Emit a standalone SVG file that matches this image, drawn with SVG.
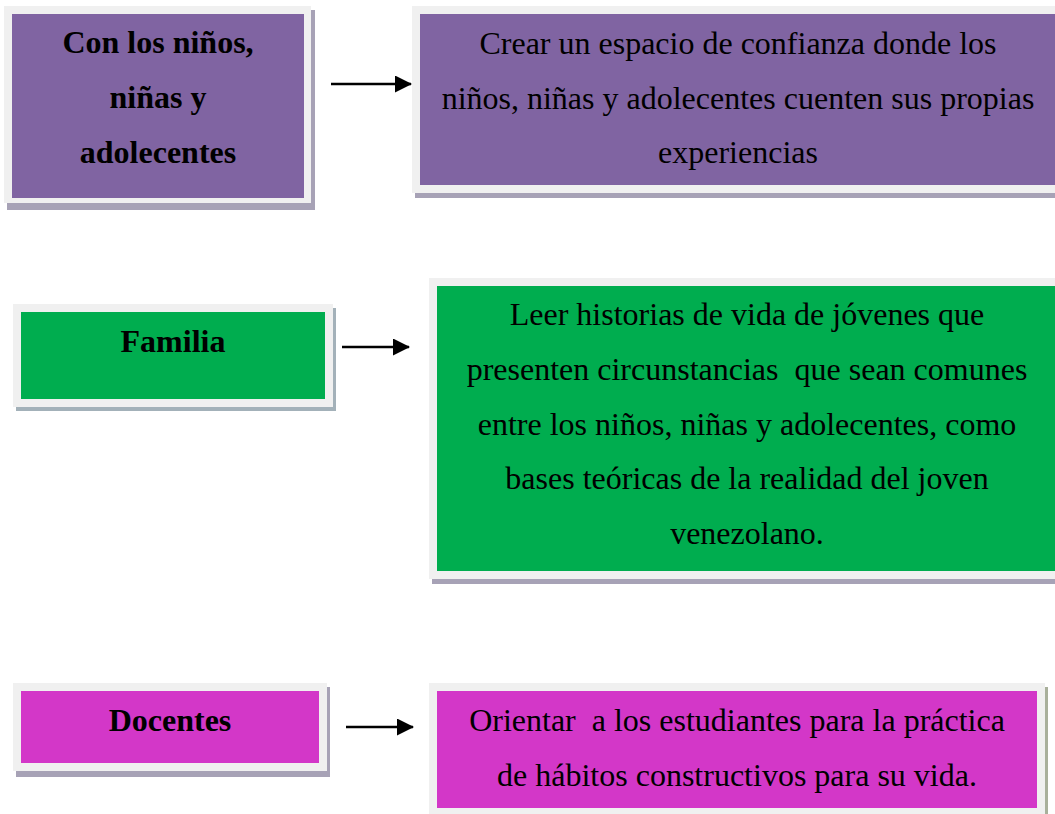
<svg xmlns="http://www.w3.org/2000/svg" width="1055" height="814" viewBox="0 0 1055 814">
<defs>
<style>
.frame{fill:#f0f0f0}
.shadow{fill:#a7a2b6}
.purple{fill:#8064a2}
.green{fill:#00ad4f}
.magenta{fill:#d337c8}
.t{font-family:"Liberation Serif","Times New Roman",serif;font-size:32px;fill:#000;text-anchor:middle;white-space:pre}
.b{font-weight:bold}
.conn line{stroke:#000;stroke-width:2.5}
</style>
<marker id="ah" markerUnits="userSpaceOnUse" markerWidth="17" markerHeight="17" refX="16" refY="8.5" orient="auto">
<polygon points="0,0 17,8.5 0,17" fill="#000"/>
</marker>
</defs>
<rect width="1055" height="814" fill="#fff"/>

<g id="node-ninos">
<rect class="shadow" x="7" y="10" width="308" height="200"/>
<rect class="frame" x="4" y="6" width="307" height="197"/>
<rect class="purple" x="12" y="14" width="292" height="184"/>
<text class="t b" x="158" y="53">Con los niños,</text>
<text class="t b" x="158" y="108">niñas y</text>
<text class="t b" x="158" y="163">adolecentes</text>
</g>

<g id="node-espacio">
<rect class="shadow" x="415" y="10" width="650" height="188"/>
<rect class="frame" x="412" y="6" width="650" height="187"/>
<rect class="purple" x="420" y="14" width="640" height="171"/>
<text class="t" x="738" y="54">Crear un espacio de confianza donde los</text>
<text class="t" x="738" y="109">niños, niñas y adolecentes cuenten sus propias</text>
<text class="t" x="738" y="163">experiencias</text>
</g>

<g id="node-familia">
<rect class="shadow" x="16" y="308" width="320" height="103" style="fill:#a3b1b9"/>
<rect class="frame" x="13" y="304" width="320" height="103"/>
<rect class="green" x="21" y="312" width="304" height="87"/>
<text class="t b" x="173" y="352">Familia</text>
</g>

<g id="node-historias">
<rect class="shadow" x="432" y="282" width="640" height="302"/>
<rect class="frame" x="429" y="278" width="640" height="301"/>
<rect class="green" x="437" y="286" width="630" height="285"/>
<text class="t" x="747" y="325">Leer historias de vida de jóvenes que</text>
<text class="t" x="747" y="380">presenten circunstancias  que sean comunes</text>
<text class="t" x="747" y="435">entre los niños, niñas y adolecentes, como</text>
<text class="t" x="747" y="489">bases teóricas de la realidad del joven</text>
<text class="t" x="747" y="544">venezolano.</text>
</g>

<g id="node-docentes">
<rect class="shadow" x="16" y="687" width="314" height="90"/>
<rect class="frame" x="13" y="683" width="314" height="88"/>
<rect class="magenta" x="21" y="691" width="298" height="72"/>
<text class="t b" x="170" y="731">Docentes</text>
</g>

<g id="node-orientar">
<rect class="shadow" x="432" y="687" width="616" height="140" style="fill:#a9b09b"/>
<rect class="frame" x="429" y="683" width="616" height="140"/>
<rect class="magenta" x="437" y="691" width="600" height="117"/>
<text class="t" x="737" y="731">Orientar  a los estudiantes para la práctica</text>
<text class="t" x="737" y="786">de hábitos constructivos para su vida.</text>
</g>

<g id="connectors" class="conn">
<line x1="331" y1="84" x2="411" y2="84" marker-end="url(#ah)"/>
<line x1="342" y1="347" x2="409" y2="347" marker-end="url(#ah)"/>
<line x1="346" y1="727" x2="413" y2="727" marker-end="url(#ah)"/>
</g>
</svg>
